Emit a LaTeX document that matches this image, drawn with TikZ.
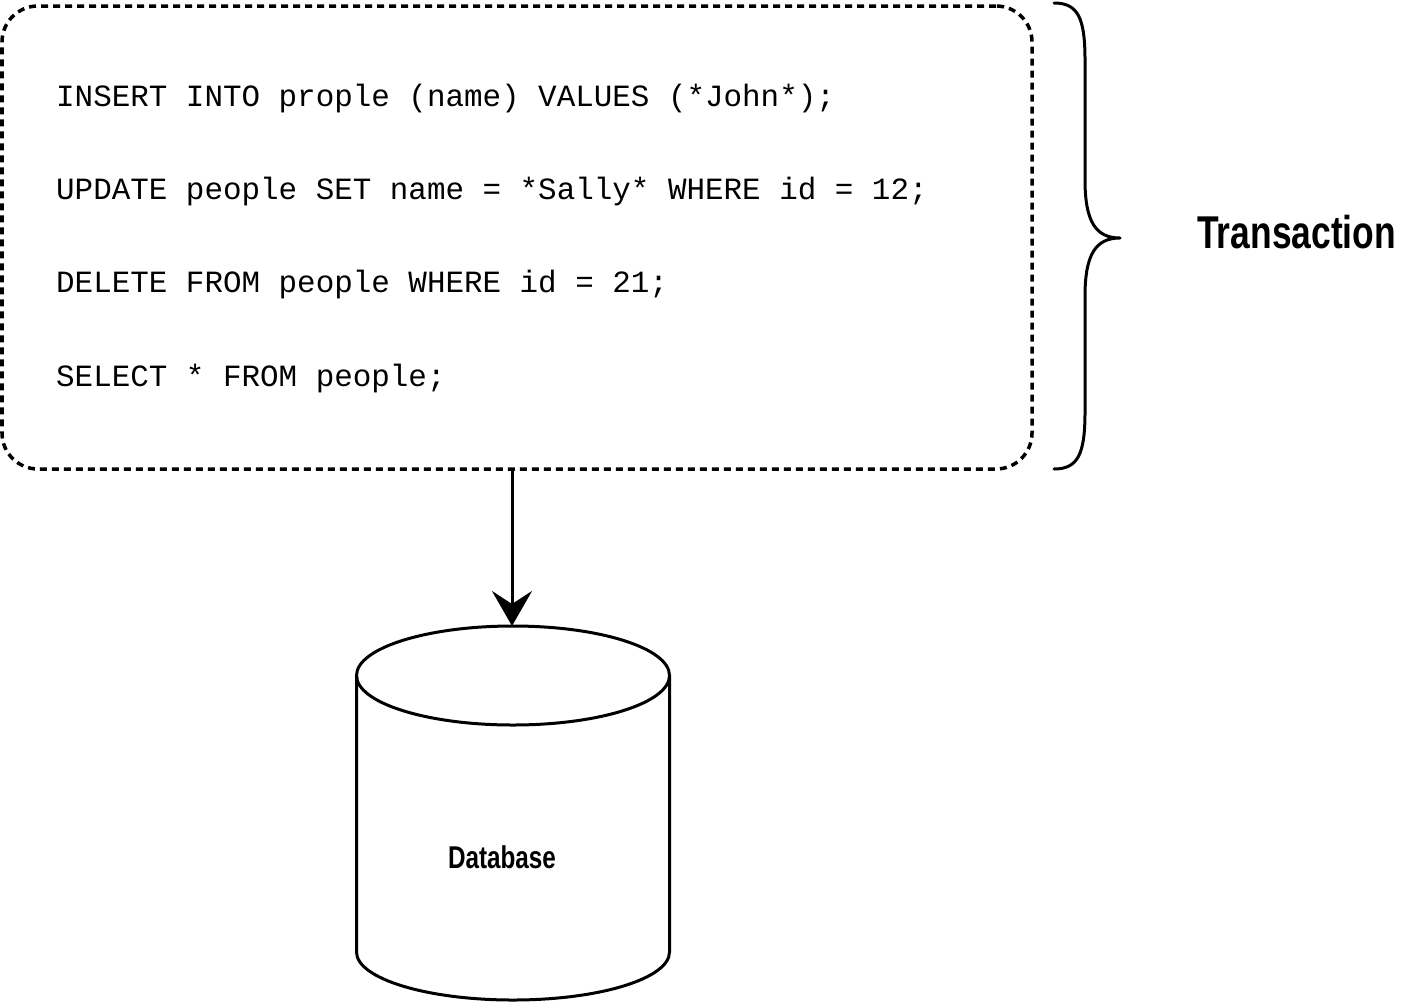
\documentclass[tikz,border=0pt]{standalone}
\usepackage{fontspec}
\setmonofont{Liberation Mono}
\newfontfamily\condsans[FakeStretch=0.77]{Liberation Sans}
\usetikzlibrary{arrows.meta}
\tikzset{
  codeline/.style={anchor=base west, inner sep=0pt, font=\ttfamily\fontsize{30.9}{37}\selectfont},
  groupbox/.style={draw, line width=3.5pt, dash pattern=on 7pt off 5pt, rounded corners=36pt, inner sep=0pt},
  strokeline/.style={line width=3pt, line cap=round, line join=round},
  dbarrow/.style={line width=3pt, -{Stealth[length=35pt, width=40pt, inset=13pt]}},
}
\begin{document}
\begin{tikzpicture}[x=1pt, y={(0,-1pt)}]
\useasboundingbox (0,0) rectangle (1404,1004);
% dashed group box
\node[groupbox, minimum width=1030pt, minimum height=463pt] (box) at (517,237.5) {};
% code lines
\node[codeline] (c1) at (56,106) {INSERT INTO prople (name) VALUES (*John*);};
\node[codeline] (c2) at (56,199) {UPDATE people SET name = *Sally* WHERE id = 12;};
\node[codeline] (c3) at (56,292) {DELETE FROM people WHERE id = 21;};
\node[codeline] (c4) at (56,386) {SELECT * FROM people;};
% brace
\draw[strokeline] (1054,3) .. controls (1078,3) and (1085,18) .. (1085,60)
  -- (1085,180) .. controls (1085,222) and (1096,238) .. (1120,238)
  .. controls (1096,238) and (1085,254) .. (1085,296)
  -- (1085,412) .. controls (1085,454) and (1078,469) .. (1054,469);
\node[anchor=base west, inner sep=0pt, font=\condsans\bfseries\fontsize{46}{50}\selectfont] (trans) at (1197,248) {Transaction};
% database cylinder
\draw[line width=3pt] (513,675.5) ellipse [x radius=156.5pt, y radius=49.5pt];
\draw[line width=3pt] (356.5,675.5) -- (356.5,952) arc[start angle=180, end angle=360, x radius=156.5pt, y radius=48pt] -- (669.5,675.5);
\coordinate (dbtop) at (512,626);
\node[anchor=base, inner sep=0pt, font=\condsans\bfseries\fontsize{31.5}{35}\selectfont] (db) at (502,868) {Database};
% arrow
\draw[dbarrow] (box.south -| dbtop) -- (dbtop);
\end{tikzpicture}
\end{document}
